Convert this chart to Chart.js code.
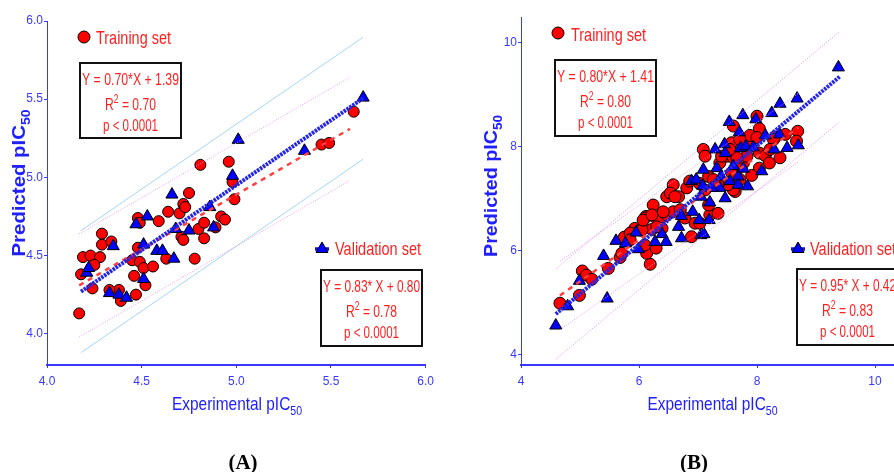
<!DOCTYPE html>
<html>
<head>
<meta charset="utf-8">
<script src="https://cdn.jsdelivr.net/npm/chart.js@4.4.0/dist/chart.umd.min.js"></script>
<style>
html, body { margin:0; padding:0; background:#fff; overflow:hidden; width:894px; height:472px; }
canvas { position:absolute; top:0; }
</style>
</head>
<body>
<canvas id="graficoA" width="440" height="472" style="left:0"></canvas>
<canvas id="graficoB" width="480" height="472" style="left:440px"></canvas>
<script>
// ---- dados do painel A ----
var xTicksA = [4.0, 4.5, 5.0, 5.5, 6.0];
var yTicksA = [4.0, 4.5, 5.0, 5.5, 6.0];
var treinoAx = [4.17, 4.18, 4.19, 4.23, 4.28, 4.25, 4.24, 4.29, 4.29, 4.34, 4.38, 4.39, 4.33, 4.47, 4.46, 4.45,
  4.48, 4.49, 4.51, 4.52, 4.56, 4.48, 4.49, 4.59, 4.64, 4.63, 4.70, 4.72, 4.73, 4.75, 4.71, 4.72, 4.78,
  4.81, 4.80, 4.83, 4.83, 4.89, 4.92, 4.94, 4.96, 4.98, 4.99, 5.45, 5.49, 5.62];
var treinoAy = [4.13, 4.38, 4.49, 4.50, 4.49, 4.44, 4.29, 4.57, 4.64, 4.59, 4.28, 4.21, 4.28, 4.25, 4.37, 4.47,
  4.55, 4.46, 4.42, 4.31, 4.43, 4.74, 4.71, 4.72, 4.78, 4.48, 4.77, 4.83, 4.81, 4.90, 4.62, 4.60, 4.48,
  5.08, 4.67, 4.71, 4.61, 4.68, 4.75, 4.73, 5.10, 4.97, 4.86, 5.21, 5.22, 5.42];
var validAx = [4.21, 4.22, 4.35, 4.33, 4.38, 4.42, 4.51, 4.51, 4.47, 4.53, 4.58, 4.61, 4.67, 4.66, 4.68,
  4.75, 4.86, 4.88, 4.98, 5.01, 5.36, 5.67];
var validAy = [4.39, 4.42, 4.56, 4.26, 4.25, 4.23, 4.57, 4.35, 4.70, 4.75, 4.53, 4.53, 4.48, 4.89, 4.67,
  4.66, 4.81, 4.68, 5.01, 5.24, 5.17, 5.51];
var inclinA = [0.70, 0.83];      // treino, validacao
var interceptoA = [1.39, 0.80];
var r2A = ['0.70', '0.78'];
var faixaXA = [[4.17, 5.60], [4.18, 5.67]];
var bandaA = [0.33, 0.39];

// ---- dados do painel B ----
var xTicksB = [4, 6, 8, 10];
var yTicksB = [4, 6, 8, 10];
var treinoBx = [4.66, 4.99, 5.04, 5.11, 5.20, 5.48, 5.68, 5.71, 5.75, 5.93, 6.02, 6.07, 6.12, 6.19, 6.13, 6.29,
  6.10, 5.85, 6.27, 6.36, 6.22, 6.10, 6.24, 6.39, 6.47, 6.58, 6.58, 6.47, 6.67, 6.53, 6.78, 6.89, 7.20,
  7.34, 7.02, 7.09, 7.12, 7.18, 7.37, 7.57, 7.63, 7.77, 7.83, 7.85, 8.00, 8.04, 7.88, 8.00, 8.31, 8.48,
  8.69, 8.67, 7.83, 8.04, 8.14, 8.21, 8.39, 8.04, 7.91, 7.60, 5.85, 6.05, 6.07, 6.22, 6.30, 6.41, 6.61,
  6.70, 6.81, 6.95, 7.03, 7.12, 7.18, 7.26, 7.49, 7.68, 7.60, 6.86, 7.60, 7.71, 8.28, 8.22, 7.66, 7.54,
  7.40, 7.51, 7.57, 7.34, 7.71];
var treinoBy = [4.99, 5.14, 5.61, 5.53, 5.45, 5.66, 5.87, 5.95, 6.26, 6.43, 6.40, 6.45, 6.66, 5.74, 5.95, 6.05,
  6.11, 6.34, 6.65, 6.61, 6.41, 6.63, 6.88, 6.43, 6.69, 6.75, 7.27, 7.04, 7.04, 7.11, 6.63, 6.27, 6.69,
  6.72, 7.30, 7.95, 7.82, 7.43, 7.69, 8.08, 7.14, 7.69, 7.95, 8.11, 8.59, 8.35, 8.22, 8.18, 8.19, 8.24,
  8.30, 8.11, 7.82, 7.88, 7.83, 7.69, 7.79, 7.59, 7.45, 7.17, 6.21, 6.40, 6.59, 6.69, 6.46, 6.75, 7.04,
  6.79, 7.21, 6.53, 6.53, 7.17, 6.88, 7.37, 7.82, 7.59, 7.79, 7.34, 8.40, 8.14, 8.14, 7.95, 7.79, 7.95,
  7.82, 7.27, 7.50, 7.27, 7.37];
var validBx = [4.59, 4.79, 4.99, 5.40, 5.46, 5.61, 5.77, 5.95, 5.99, 6.27, 6.39, 6.46, 6.72, 6.67, 6.72, 6.91,
  7.02, 7.05, 7.10, 7.19, 7.05, 6.89, 6.97, 7.08, 7.09, 7.20, 7.29, 7.32, 7.39, 7.37, 7.46, 7.45, 7.46,
  7.54, 7.60, 7.68, 7.68, 7.72, 7.77, 7.70, 7.84, 9.38, 8.68, 8.39, 8.25, 7.76, 7.53, 7.98, 7.81, 7.94,
  8.14, 8.29, 8.38, 8.51, 8.70, 8.08, 7.23];
var validBy = [4.56, 4.93, 5.42, 5.90, 5.08, 6.19, 6.14, 6.35, 6.03, 6.17, 6.32, 6.17, 6.24, 6.46, 6.67, 6.75,
  6.59, 6.30, 6.32, 6.59, 7.04, 7.34, 7.37, 7.25, 7.56, 6.93, 7.95, 7.59, 7.43, 7.21, 7.01, 8.05, 7.88,
  7.34, 7.63, 7.43, 7.27, 7.98, 7.58, 8.28, 7.24, 9.53, 8.93, 8.83, 8.65, 8.61, 8.48, 8.53, 8.01, 7.99,
  8.22, 7.95, 8.24, 7.98, 8.03, 7.53, 7.21];
var inclinB = [0.80, 0.95];
var interceptoB = [1.41, 0.42];
var r2B = ['0.80', '0.83'];
var faixaXB = [[4.66, 8.70], [4.59, 9.40]];
var bandaB = [0.66, 0.87];

var AZUL = '#3838ff';
var VERMELHO = '#ff1f1f';
var FONTE = '"Liberation Sans", Arial, sans-serif';

function pontos(xs, ys) {
	return xs.map(function(x, i) { return {x: x, y: ys[i]}; });
}

function reta(a, b, faixa, desloc) {
	return [{x: faixa[0], y: a * faixa[0] + b + desloc}, {x: faixa[1], y: a * faixa[1] + b + desloc}];
}

function eqTexto(a, b, espaco) {
	return 'Y = ' + a.toFixed(2) + '*' + (espaco ? ' ' : '') + 'X + ' + b.toFixed(2);
}

// texto com sobrescrito/subscrito e compressao horizontal
function textoRico(ctx, partes, x, y, o) {
	var fam = o.fam || FONTE;
	var peso = o.bold ? 'bold ' : '';
	var tp = Math.round(o.size * 0.68);
	var ws = [], total = 0;
	partes.forEach(function(p) {
		ctx.font = peso + (p[1] ? tp : o.size) + 'px ' + fam;
		var w = ctx.measureText(p[0]).width;
		ws.push(w); total += w;
	});
	var sx = o.width ? o.width / total : (o.sx || 1);
	var x0 = o.align === 'center' ? x - total * sx / 2 : x;
	ctx.save();
	ctx.translate(x0, y);
	ctx.scale(sx, 1);
	ctx.fillStyle = o.color;
	ctx.textAlign = 'left';
	ctx.textBaseline = 'alphabetic';
	var cx = 0;
	partes.forEach(function(p, i) {
		ctx.font = peso + (p[1] ? tp : o.size) + 'px ' + fam;
		var dy = p[1] === 'sup' ? -o.size * 0.42 : (p[1] === 'sub' ? o.size * 0.25 : 0);
		ctx.fillText(p[0], cx, dy);
		cx += ws[i];
	});
	ctx.restore();
}

function marcador(ctx, tipo, x, y) {
	ctx.save();
	ctx.lineWidth = 1;
	ctx.strokeStyle = '#000';
	if (tipo === 'circle') {
		ctx.beginPath();
		ctx.arc(x, y, 6, 0, Math.PI * 2);
		ctx.fillStyle = '#ff0000';
		ctx.fill(); ctx.stroke();
	} else {
		ctx.strokeStyle = '#1010e0'; ctx.lineWidth = 3.5;
		ctx.beginPath(); ctx.moveTo(x - 7, y + 1); ctx.lineTo(x + 7, y + 1); ctx.stroke();
		ctx.strokeStyle = '#000'; ctx.lineWidth = 1;
		ctx.beginPath();
		ctx.moveTo(x, y - 6); ctx.lineTo(x + 6, y + 4.5); ctx.lineTo(x - 6, y + 4.5); ctx.closePath();
		ctx.fillStyle = '#0000ff';
		ctx.fill(); ctx.stroke();
	}
	ctx.restore();
}

var anotacoes = {
	id: 'anotacoes',
	afterDatasetsDraw: function(chart, args, o) {
		var ctx = chart.ctx;
		o.legenda.forEach(function(l) {
			marcador(ctx, l.tipo, l.mx, l.my);
			textoRico(ctx, [[l.texto]], l.tx, l.ty, {size: 19, color: VERMELHO, width: l.tw});
		});
		o.caixas.forEach(function(c) {
			ctx.save();
			ctx.fillStyle = '#fff';
			ctx.fillRect(c.x, c.y, c.w, c.h);
			ctx.lineWidth = 2;
			ctx.strokeStyle = '#111';
			ctx.strokeRect(c.x, c.y, c.w, c.h);
			ctx.restore();
			var cx = c.x + c.w / 2;
			textoRico(ctx, [[c.eq]], cx, c.y + 21.5, {size: 17, color: VERMELHO, width: 97, align: 'center'});
			textoRico(ctx, [['R'], ['2', 'sup'], [' = ' + c.r2]], cx, c.y + 47, {size: 17, color: VERMELHO, width: 51, align: 'center'});
			textoRico(ctx, [['p < 0.0001']], cx, c.y + 68, {size: 17, color: VERMELHO, width: 55, align: 'center'});
		});
		// titulos dos eixos
		textoRico(ctx, [['Experimental pIC'], ['50', 'sub']], o.tituloX[0], o.tituloX[1], {size: 19, color: '#2020ff', width: 130, align: 'center'});
		ctx.save();
		ctx.translate(o.tituloY[0], o.tituloY[1]);
		ctx.rotate(-Math.PI / 2);
		textoRico(ctx, [['Predicted pIC'], ['50', 'sub']], 0, 0, {size: 19, bold: true, color: '#2020ff', width: o.tituloY[2], align: 'center'});
		ctx.restore();
		textoRico(ctx, [[o.rotulo]], o.posRotulo[0], o.posRotulo[1], {size: 21, bold: true, color: '#000', fam: '"Liberation Serif", "Times New Roman", serif', align: 'center'});
	}
};

function eixo(ticks, min, max, fmt, eixoX, larg) {
	return {
		type: 'linear', min: min, max: max,
		afterBuildTicks: function(s) { s.ticks = ticks.map(function(v) { return {value: v}; }); },
		afterFit: function(s) { if (eixoX) s.height = larg; else s.width = larg; },
		grid: {display: true, drawOnChartArea: false, drawTicks: true, tickLength: 3, color: AZUL},
		border: {display: true, color: AZUL, width: eixoX ? 2 : 1, dash: eixoX ? [] : [1, 1]},
		ticks: {color: AZUL, padding: eixoX ? 6 : 1, font: {family: FONTE, size: 12}, maxRotation: 0,
			callback: function(v) { return fmt(v); }}
	};
}

function criarGrafico(id, d) {
	var ctx = document.getElementById(id).getContext('2d');
	var linhaTreino = {borderColor: '#ff4040', borderWidth: 2.5, borderDash: [5, 5]};
	var linhaValid = {borderColor: '#2424e6', borderWidth: 4, borderDash: [2.5, 1]};
	function ds(dados, estilo, ordem) {
		return Object.assign({type: 'scatter', data: dados, showLine: true, pointRadius: 0, fill: false, order: ordem}, estilo);
	}
	return new Chart(ctx, {
		type: 'scatter',
		data: {
			datasets: [
				ds(reta(d.a[1], d.b[1], d.faixa[1], 0), linhaValid, 0),
				ds(reta(d.a[0], d.b[0], d.faixa[0], 0), linhaTreino, 0),
				ds(reta(d.a[0], d.b[0], d.faixa[0], d.banda[0]), d.bandaTreino, 0),
				ds(reta(d.a[0], d.b[0], d.faixa[0], -d.banda[0]), d.bandaTreino, 0),
				ds(reta(d.a[1], d.b[1], d.faixa[1], d.banda[1]), d.bandaValid, 0),
				ds(reta(d.a[1], d.b[1], d.faixa[1], -d.banda[1]), d.bandaValid, 0),
				{label: 'Validation set', data: pontos(d.vx, d.vy), pointStyle: 'triangle', pointRadius: 7,
					backgroundColor: '#0000ff', borderColor: '#000', borderWidth: 1, order: 1},
				{label: 'Training set', data: pontos(d.tx, d.ty), pointStyle: 'circle', pointRadius: d.raio,
					backgroundColor: '#ff0000', borderColor: '#000', borderWidth: 1, order: 2}
			]
		},
		options: {
			responsive: false, animation: false, events: [],
			layout: {padding: d.padding},
			plugins: {legend: {display: false}, tooltip: {enabled: false}, anotacoes: d.anot},
			scales: {
				x: eixo(d.xTicks, d.xMin, d.xMax, d.fmt, true, 107),
				y: eixo(d.yTicks, d.yMin, d.yMax, d.fmt, false, d.larguraY)
			}
		},
		plugins: [anotacoes]
	});
}

var umDec = function(v) { return v.toFixed(1); };
var inteiro = function(v) { return String(v); };

criarGrafico('graficoA', {
	tx: treinoAx, ty: treinoAy, vx: validAx, vy: validAy, raio: 5.5,
	a: inclinA, b: interceptoA, faixa: faixaXA, banda: bandaA,
	bandaTreino: {borderColor: '#e69cf2', borderWidth: 1, borderDash: [1, 1.5]},
	bandaValid: {borderColor: '#a4d6f4', borderWidth: 1},
	xTicks: xTicksA, yTicks: yTicksA, xMin: 4.0, xMax: 6.0, yMin: 3.8, yMax: 6.0, fmt: umDec,
	larguraY: 47, padding: {left: 0, right: 13, top: 21, bottom: 0},
	anot: {
		legenda: [
			{tipo: 'circle', mx: 84, my: 37, texto: 'Training set', tx: 96, ty: 44, tw: 75},
			{tipo: 'tri', mx: 322, my: 248, texto: 'Validation set', tx: 335, ty: 255, tw: 86}
		],
		caixas: [
			{x: 80, y: 63, w: 101, h: 75, eq: eqTexto(inclinA[0], interceptoA[0], false), r2: r2A[0]},
			{x: 321, y: 270, w: 101, h: 76, eq: eqTexto(inclinA[1], interceptoA[1], true), r2: r2A[1]}
		],
		tituloX: [237, 410], tituloY: [25, 183, 147], rotulo: '(A)', posRotulo: [243, 469]
	}
});

criarGrafico('graficoB', {
	tx: treinoBx, ty: treinoBy, vx: validBx, vy: validBy, raio: 6,
	a: inclinB, b: interceptoB, faixa: faixaXB, banda: bandaB,
	bandaTreino: {borderColor: '#e69cf2', borderWidth: 1, borderDash: [1, 1.5]},
	bandaValid: {borderColor: '#e08cf0', borderWidth: 1, borderDash: [1, 1.5]},
	xTicks: xTicksB, yTicks: yTicksB, xMin: 4, xMax: 10.5, yMin: 3.8, yMax: 10.5, fmt: inteiro,
	larguraY: 81, padding: {left: 0, right: 15.5, top: 17, bottom: 0},
	anot: {
		legenda: [
			{tipo: 'circle', mx: 118, my: 33, texto: 'Training set', tx: 131, ty: 41, tw: 75},
			{tipo: 'tri', mx: 358, my: 248, texto: 'Validation set', tx: 370, ty: 255, tw: 86}
		],
		caixas: [
			{x: 115, y: 60, w: 101, h: 76, eq: eqTexto(inclinB[0], interceptoB[0], false), r2: r2B[0]},
			{x: 357, y: 269, w: 101, h: 76, eq: eqTexto(inclinB[1], interceptoB[1], true), r2: r2B[1]}
		],
		tituloX: [272.5, 410], tituloY: [57, 186, 142], rotulo: '(B)', posRotulo: [254, 469]
	}
});
</script>
</body>
</html>
